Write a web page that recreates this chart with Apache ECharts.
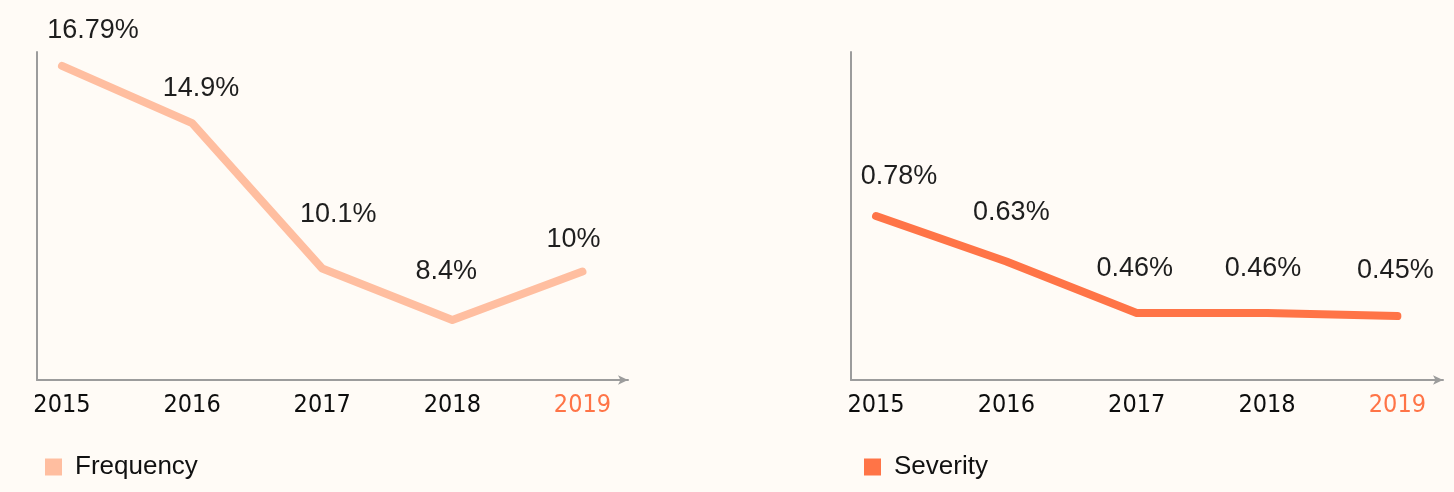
<!DOCTYPE html>
<html>
<head>
<meta charset="utf-8">
<script src="https://cdn.jsdelivr.net/npm/echarts@6/dist/echarts.min.js"></script>
<style>
  html, body { margin: 0; padding: 0; background: #fffbf6; }
  #chart { width: 1454px; height: 492px; }
</style>
</head>
<body>
<div id="chart"></div>
<script>
// ---- data ----
const years = [2015, 2016, 2017, 2018, 2019];
const frequency = [16.79, 14.9, 10.1, 8.4, 10];
const severity = [0.78, 0.63, 0.46, 0.46, 0.45];
const seriesNames = ['Frequency', 'Severity'];
const highlightYear = 2019;

// ---- styling (label placement offsets relative to each point) ----
const freqLabelOffsets = [[31, -35], [9, -35], [16, -54], [-6, -48], [-9, -32]];
const sevLabelOffsets = [[23, -39], [5, -49], [-2, -44], [-4, -44], [-2, -45]];

const FREQ_COLOR = '#ffbea0';
const SEV_COLOR = '#ff7447';
const AXIS_COLOR = '#9c9c9c';
const TEXT_COLOR = '#1e1e1e';
const NARROW = "'Liberation Sans Narrow', 'DejaVu Sans Condensed', 'Roboto Condensed', 'Arial Narrow', sans-serif";

function buildData(values, offsets) {
  return years.map((y, i) => ({
    value: [y, values[i]],
    label: { offset: offsets[i] }
  }));
}

function xAxisCfg(gridIndex) {
  return {
    type: 'value',
    gridIndex: gridIndex,
    min: 2014.808,
    max: 2019.35,
    splitLine: { show: false },
    axisTick: { show: false },
    axisLine: {
      show: true,
      lineStyle: { color: AXIS_COLOR, width: 2 },
      symbol: ['none', 'arrow'],
      symbolSize: [7, 10]
    },
    axisLabel: {
      customValues: years,
      margin: 13,
      formatter: v => (v === highlightYear ? '{hl|' + v + '}' : '{n|' + v + '}'),
      rich: {
        n: { fontFamily: NARROW, fontSize: 25, color: '#0d0d0d' },
        hl: { fontFamily: NARROW, fontSize: 25, color: SEV_COLOR }
      }
    }
  };
}

function yAxisCfg(gridIndex, min, max) {
  return {
    type: 'value',
    gridIndex: gridIndex,
    min: min,
    max: max,
    splitLine: { show: false },
    axisTick: { show: false },
    axisLabel: { show: false },
    axisLine: { show: true, lineStyle: { color: AXIS_COLOR, width: 2 } }
  };
}

function lineSeries(name, idx, values, offsets, color) {
  return {
    name: name,
    type: 'line',
    xAxisIndex: idx,
    yAxisIndex: idx,
    data: buildData(values, offsets),
    symbol: 'circle',
    symbolSize: 1,
    showSymbol: true,
    itemStyle: { color: color },
    lineStyle: { color: color, width: 8, cap: 'round', join: 'round' },
    label: {
      show: true,
      position: 'inside',
      formatter: p => p.value[1] + '%',
      fontFamily: 'Liberation Sans',
      fontSize: 27,
      lineHeight: 27,
      color: TEXT_COLOR
    },
    emphasis: { disabled: true },
    animation: false
  };
}

function legendCfg(name, left) {
  return {
    data: [name],
    left: left, top: 449,
    icon: 'rect', itemWidth: 17, itemHeight: 17,
    formatter: '{a|{name}}',
    textStyle: { rich: { a: { fontFamily: 'Liberation Sans', fontSize: 26, color: '#111111', padding: [0, 0, 0, 8] } } }
  };
}

const chart = echarts.init(document.getElementById('chart'), null, { renderer: 'canvas' });
chart.setOption({
  backgroundColor: '#fffbf6',
  animation: false,
  grid: [
    { left: 37, top: 52, width: 591, height: 328 },
    { left: 851, top: 52, width: 592, height: 328 }
  ],
  xAxis: [xAxisCfg(0), xAxisCfg(1)],
  yAxis: [yAxisCfg(0, 6.418, 17.25), yAxisCfg(1, 0.239, 1.321)],
  legend: [legendCfg(seriesNames[0], 40), legendCfg(seriesNames[1], 859)],
  series: [
    lineSeries(seriesNames[0], 0, frequency, freqLabelOffsets, FREQ_COLOR),
    lineSeries(seriesNames[1], 1, severity, sevLabelOffsets, SEV_COLOR)
  ]
});
</script>
</body>
</html>
